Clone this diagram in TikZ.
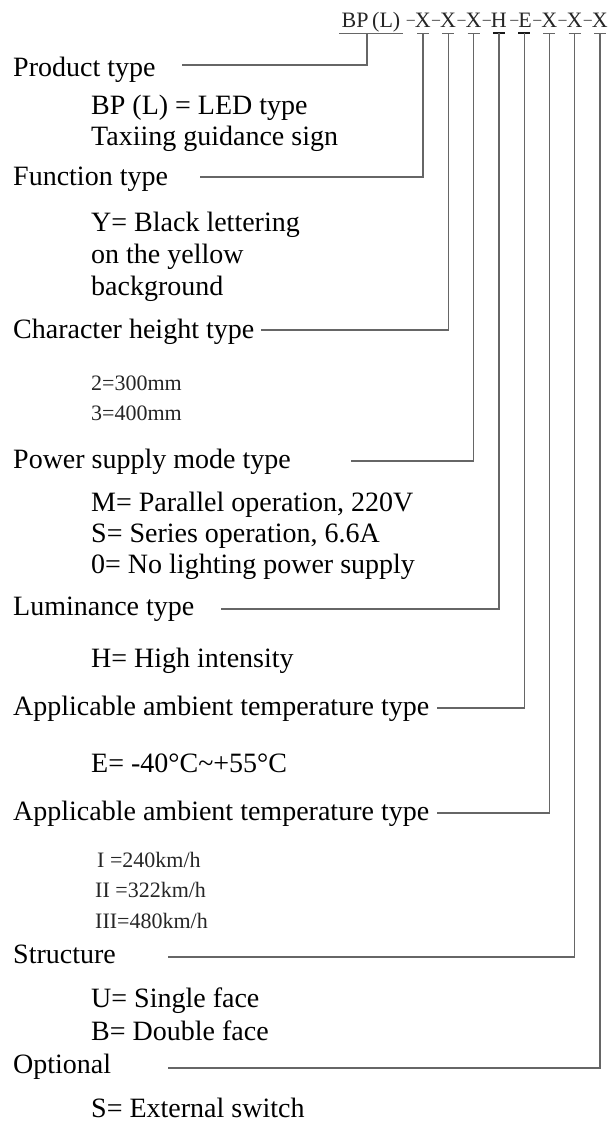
\documentclass[tikz,border=0pt]{standalone}
\usepackage{fontspec}
\setmainfont{Liberation Serif}
\newcommand{\cdsh}{{\fontsize{16}{18}\selectfont\raisebox{3pt}{–}}}
\begin{document}
\begin{tikzpicture}[x=1pt,y=-1pt,
  lab/.style={font=\fontsize{28}{32}\selectfont, anchor=base west, inner sep=0pt},
  cjk/.style={font=\fontsize{22}{26}\selectfont, anchor=base west, inner sep=0pt, text=black!85},
  code/.style={font=\fontsize{22}{24}\selectfont, anchor=base, inner sep=0pt, text depth=0pt, text=black!85},
  codepair/.style={font=\fontsize{22}{24}\selectfont, anchor=base east, inner sep=0pt, text depth=0pt, text=black!85},
  conn/.style={draw=black!60, line width=1.2pt},
  ul/.style={draw=black!60, line width=1.2pt},
  ulb/.style={draw=black!90, line width=2pt}]
\useasboundingbox (0,0) rectangle (610,1124);

% code row: each node is "dash + letter", its letter's right edge 8pt right of the letter centre
\node[code] (bp) at (371,28) {BP\,(L)};
\foreach \x/\n/\t in {423/c1/X, 448.3/c2/X, 473.6/c3/X, 498.9/c4/H, 524.1/c5/E, 549.4/c6/X, 574.7/c7/X, 600/c8/X}
  \node[codepair] (\n) at (\x+8,28) {\cdsh\t};

% underlines
\draw[ul] ([xshift=-2pt,yshift=-5pt]bp.south west) -- ([xshift=2pt,yshift=-5pt]bp.south east);
\foreach \n in {c1,c2,c3,c6,c7,c8}
  \draw[ul] ([xshift=-14pt,yshift=-5pt]\n.south east) -- ([xshift=-2pt,yshift=-5pt]\n.south east);
\foreach \n in {c4,c5}
  \draw[ulb] ([xshift=-14pt,yshift=-5pt]\n.south east) -- ([xshift=-2pt,yshift=-5pt]\n.south east);

% labels
\node[lab] (l1) at (13,77) {Product type};
\node[lab] (i1a) at (91,114) {BP (L) = LED type};
\node[lab] (i1b) at (91,145) {Taxiing guidance sign};
\node[lab] (l2) at (13,185) {Function type};
\node[lab] (i2a) at (91,231) {Y= Black lettering};
\node[lab] (i2b) at (91,263) {on the yellow};
\node[lab] (i2c) at (91,295) {background};
\node[lab] (l3) at (13,338) {Character height type};
\node[cjk] (i3a) at (91,390) {2=300mm};
\node[cjk] (i3b) at (91,420) {3=400mm};
\node[lab] (l4) at (13,468) {Power supply mode type};
\node[lab] (i4a) at (91,511) {M= Parallel operation, 220V};
\node[lab] (i4b) at (91,542) {S= Series operation, 6.6A};
\node[lab] (i4c) at (91,573) {0= No lighting power supply};
\node[lab] (l5) at (13,615) {Luminance type};
\node[lab] (i5a) at (91,667) {H= High intensity};
\node[lab] (l6) at (13,715) {Applicable ambient temperature type};
\node[lab] (i6a) at (91,772) {E= -40°C\textasciitilde+55°C};
\node[lab] (l7) at (13,820) {Applicable ambient temperature type};
\node[cjk] (i7a) at (97,867) {I =240km/h};
\node[cjk] (i7b) at (95,897) {II =322km/h};
\node[cjk] (i7c) at (95,928) {III=480km/h};
\node[lab] (l8) at (13,963) {Structure};
\node[lab] (i8a) at (91,1007) {U= Single face};
\node[lab] (i8b) at (91,1040) {B= Double face};
\node[lab] (l9) at (13,1073) {Optional};
\node[lab] (i9a) at (91,1117) {S= External switch};

% line start points
\coordinate (s1) at (182,65);
\coordinate (s2) at (200,177);
\coordinate (s3) at (261,330);
\coordinate (s4) at (351,461);
\coordinate (s5) at (221,609);
\coordinate (s6) at (437,708);
\coordinate (s7) at (437,813);
\coordinate (s8) at (168,957);
\coordinate (s9) at (168,1068);

% connectors
\draw[conn] ([xshift=-4pt,yshift=-5pt]bp.south) |- (s1);
\foreach \n/\s in {c1/s2, c2/s3, c3/s4, c4/s5, c5/s6, c6/s7, c7/s8, c8/s9}
  \draw[conn] ([xshift=-8pt,yshift=-5pt]\n.south east) |- (\s);
\end{tikzpicture}
\end{document}
